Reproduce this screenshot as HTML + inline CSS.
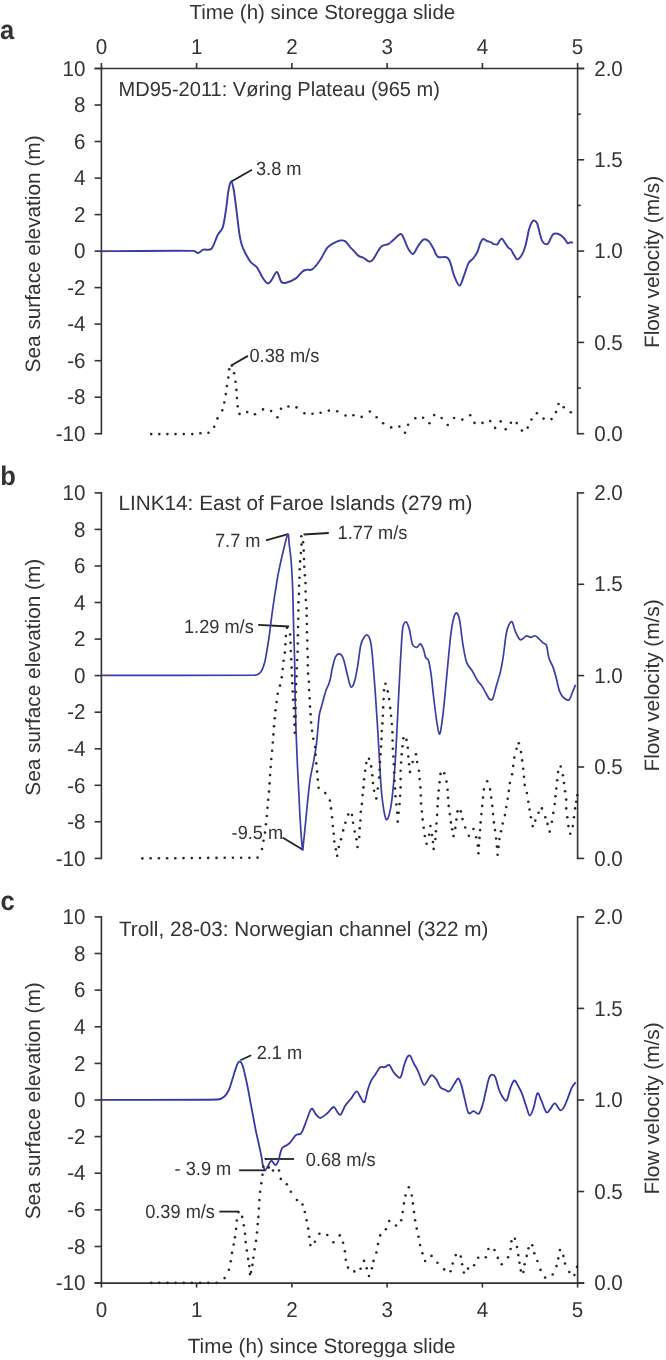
<!DOCTYPE html>
<html><head><meta charset="utf-8"><style>
html,body{margin:0;padding:0;background:#fff;}
svg{display:block;}
text{font-family:"Liberation Sans",sans-serif;text-rendering:geometricPrecision;}
</style></head><body>
<svg width="666" height="1360" viewBox="0 0 666 1360">
<rect width="666" height="1360" fill="#fff"/>
<line x1="101.4" y1="67.6" x2="101.4" y2="434.6" stroke="#333" stroke-width="1.6"/>
<line x1="577.6" y1="67.6" x2="577.6" y2="434.6" stroke="#333" stroke-width="1.6"/>
<line x1="94.6" y1="68.5" x2="101.4" y2="68.5" stroke="#333" stroke-width="1.6"/>
<line x1="94.6" y1="105.0" x2="101.4" y2="105.0" stroke="#333" stroke-width="1.6"/>
<line x1="94.6" y1="141.5" x2="101.4" y2="141.5" stroke="#333" stroke-width="1.6"/>
<line x1="94.6" y1="178.1" x2="101.4" y2="178.1" stroke="#333" stroke-width="1.6"/>
<line x1="94.6" y1="214.6" x2="101.4" y2="214.6" stroke="#333" stroke-width="1.6"/>
<line x1="94.6" y1="251.1" x2="101.4" y2="251.1" stroke="#333" stroke-width="1.6"/>
<line x1="94.6" y1="287.6" x2="101.4" y2="287.6" stroke="#333" stroke-width="1.6"/>
<line x1="94.6" y1="324.1" x2="101.4" y2="324.1" stroke="#333" stroke-width="1.6"/>
<line x1="94.6" y1="360.7" x2="101.4" y2="360.7" stroke="#333" stroke-width="1.6"/>
<line x1="94.6" y1="397.2" x2="101.4" y2="397.2" stroke="#333" stroke-width="1.6"/>
<line x1="94.6" y1="433.7" x2="101.4" y2="433.7" stroke="#333" stroke-width="1.6"/>
<line x1="577.6" y1="433.7" x2="584.2" y2="433.7" stroke="#333" stroke-width="1.6"/>
<line x1="577.6" y1="342.4" x2="584.2" y2="342.4" stroke="#333" stroke-width="1.6"/>
<line x1="577.6" y1="251.1" x2="584.2" y2="251.1" stroke="#333" stroke-width="1.6"/>
<line x1="577.6" y1="159.8" x2="584.2" y2="159.8" stroke="#333" stroke-width="1.6"/>
<line x1="577.6" y1="68.5" x2="584.2" y2="68.5" stroke="#333" stroke-width="1.6"/>
<line x1="577.6" y1="388.1" x2="580.8" y2="388.1" stroke="#333" stroke-width="1.6"/>
<line x1="577.6" y1="296.8" x2="580.8" y2="296.8" stroke="#333" stroke-width="1.6"/>
<line x1="577.6" y1="205.4" x2="580.8" y2="205.4" stroke="#333" stroke-width="1.6"/>
<line x1="577.6" y1="114.1" x2="580.8" y2="114.1" stroke="#333" stroke-width="1.6"/>
<line x1="101.4" y1="492.0" x2="101.4" y2="859.3" stroke="#333" stroke-width="1.6"/>
<line x1="577.6" y1="492.0" x2="577.6" y2="859.3" stroke="#333" stroke-width="1.6"/>
<line x1="94.6" y1="492.9" x2="101.4" y2="492.9" stroke="#333" stroke-width="1.6"/>
<line x1="94.6" y1="529.4" x2="101.4" y2="529.4" stroke="#333" stroke-width="1.6"/>
<line x1="94.6" y1="566.0" x2="101.4" y2="566.0" stroke="#333" stroke-width="1.6"/>
<line x1="94.6" y1="602.5" x2="101.4" y2="602.5" stroke="#333" stroke-width="1.6"/>
<line x1="94.6" y1="639.1" x2="101.4" y2="639.1" stroke="#333" stroke-width="1.6"/>
<line x1="94.6" y1="675.6" x2="101.4" y2="675.6" stroke="#333" stroke-width="1.6"/>
<line x1="94.6" y1="712.2" x2="101.4" y2="712.2" stroke="#333" stroke-width="1.6"/>
<line x1="94.6" y1="748.8" x2="101.4" y2="748.8" stroke="#333" stroke-width="1.6"/>
<line x1="94.6" y1="785.3" x2="101.4" y2="785.3" stroke="#333" stroke-width="1.6"/>
<line x1="94.6" y1="821.8" x2="101.4" y2="821.8" stroke="#333" stroke-width="1.6"/>
<line x1="94.6" y1="858.4" x2="101.4" y2="858.4" stroke="#333" stroke-width="1.6"/>
<line x1="577.6" y1="858.4" x2="584.2" y2="858.4" stroke="#333" stroke-width="1.6"/>
<line x1="577.6" y1="767.0" x2="584.2" y2="767.0" stroke="#333" stroke-width="1.6"/>
<line x1="577.6" y1="675.6" x2="584.2" y2="675.6" stroke="#333" stroke-width="1.6"/>
<line x1="577.6" y1="584.3" x2="584.2" y2="584.3" stroke="#333" stroke-width="1.6"/>
<line x1="577.6" y1="492.9" x2="584.2" y2="492.9" stroke="#333" stroke-width="1.6"/>
<line x1="101.4" y1="916.0" x2="101.4" y2="1284.0" stroke="#333" stroke-width="1.6"/>
<line x1="577.6" y1="916.0" x2="577.6" y2="1284.0" stroke="#333" stroke-width="1.6"/>
<line x1="94.6" y1="916.9" x2="101.4" y2="916.9" stroke="#333" stroke-width="1.6"/>
<line x1="94.6" y1="953.5" x2="101.4" y2="953.5" stroke="#333" stroke-width="1.6"/>
<line x1="94.6" y1="990.1" x2="101.4" y2="990.1" stroke="#333" stroke-width="1.6"/>
<line x1="94.6" y1="1026.8" x2="101.4" y2="1026.8" stroke="#333" stroke-width="1.6"/>
<line x1="94.6" y1="1063.4" x2="101.4" y2="1063.4" stroke="#333" stroke-width="1.6"/>
<line x1="94.6" y1="1100.0" x2="101.4" y2="1100.0" stroke="#333" stroke-width="1.6"/>
<line x1="94.6" y1="1136.6" x2="101.4" y2="1136.6" stroke="#333" stroke-width="1.6"/>
<line x1="94.6" y1="1173.2" x2="101.4" y2="1173.2" stroke="#333" stroke-width="1.6"/>
<line x1="94.6" y1="1209.9" x2="101.4" y2="1209.9" stroke="#333" stroke-width="1.6"/>
<line x1="94.6" y1="1246.5" x2="101.4" y2="1246.5" stroke="#333" stroke-width="1.6"/>
<line x1="94.6" y1="1283.1" x2="101.4" y2="1283.1" stroke="#333" stroke-width="1.6"/>
<line x1="577.6" y1="1283.1" x2="584.2" y2="1283.1" stroke="#333" stroke-width="1.6"/>
<line x1="577.6" y1="1191.5" x2="584.2" y2="1191.5" stroke="#333" stroke-width="1.6"/>
<line x1="577.6" y1="1100.0" x2="584.2" y2="1100.0" stroke="#333" stroke-width="1.6"/>
<line x1="577.6" y1="1008.4" x2="584.2" y2="1008.4" stroke="#333" stroke-width="1.6"/>
<line x1="577.6" y1="916.9" x2="584.2" y2="916.9" stroke="#333" stroke-width="1.6"/>
<line x1="94.6" y1="68.5" x2="584.2" y2="68.5" stroke="#333" stroke-width="1.6"/>
<line x1="101.4" y1="63.0" x2="101.4" y2="68.5" stroke="#333" stroke-width="1.6"/>
<line x1="196.6" y1="63.0" x2="196.6" y2="68.5" stroke="#333" stroke-width="1.6"/>
<line x1="291.9" y1="63.0" x2="291.9" y2="68.5" stroke="#333" stroke-width="1.6"/>
<line x1="387.1" y1="63.0" x2="387.1" y2="68.5" stroke="#333" stroke-width="1.6"/>
<line x1="482.4" y1="63.0" x2="482.4" y2="68.5" stroke="#333" stroke-width="1.6"/>
<line x1="577.6" y1="63.0" x2="577.6" y2="68.5" stroke="#333" stroke-width="1.6"/>
<line x1="94.6" y1="1283.1" x2="584.2" y2="1283.1" stroke="#333" stroke-width="1.6"/>
<line x1="101.4" y1="1283.1" x2="101.4" y2="1287.6" stroke="#333" stroke-width="1.6"/>
<line x1="196.6" y1="1283.1" x2="196.6" y2="1287.6" stroke="#333" stroke-width="1.6"/>
<line x1="291.9" y1="1283.1" x2="291.9" y2="1287.6" stroke="#333" stroke-width="1.6"/>
<line x1="387.1" y1="1283.1" x2="387.1" y2="1287.6" stroke="#333" stroke-width="1.6"/>
<line x1="482.4" y1="1283.1" x2="482.4" y2="1287.6" stroke="#333" stroke-width="1.6"/>
<line x1="577.6" y1="1283.1" x2="577.6" y2="1287.6" stroke="#333" stroke-width="1.6"/>
<line x1="231.4" y1="181.5" x2="252.0" y2="169.8" stroke="#222" stroke-width="1.8"/>
<line x1="231.7" y1="365.2" x2="247.9" y2="355.9" stroke="#222" stroke-width="1.8"/>
<line x1="265.9" y1="540.4" x2="288.1" y2="534.2" stroke="#222" stroke-width="1.8"/>
<line x1="303.6" y1="534.5" x2="328.8" y2="533.0" stroke="#222" stroke-width="1.8"/>
<line x1="258.2" y1="624.9" x2="289.1" y2="626.5" stroke="#222" stroke-width="1.8"/>
<line x1="282.5" y1="837.4" x2="302.5" y2="849.4" stroke="#222" stroke-width="1.8"/>
<line x1="240.4" y1="1060.2" x2="251.2" y2="1055.3" stroke="#222" stroke-width="1.8"/>
<line x1="239.1" y1="1170.3" x2="266.0" y2="1170.3" stroke="#222" stroke-width="1.8"/>
<line x1="265.8" y1="1159.0" x2="294.1" y2="1159.0" stroke="#222" stroke-width="1.8"/>
<line x1="219.3" y1="1211.6" x2="238.5" y2="1211.6" stroke="#222" stroke-width="1.8"/>
<path d="M101.4 251.2 C116.8 251.1 177.4 250.6 193.5 250.9 C195.7 250.9 196.3 253.2 198.0 253.0 C199.7 252.8 201.2 250.3 203.4 249.6 C205.7 248.9 209.1 251.2 211.5 248.7 C213.9 246.2 215.9 238.2 217.8 234.7 C219.6 231.2 221.5 231.2 222.7 227.5 C224.1 223.3 225.0 215.8 226.0 209.5 C227.0 203.2 227.7 194.3 228.6 189.6 C229.3 185.8 230.5 181.2 231.4 181.5 C232.3 181.8 233.2 186.9 234.0 191.4 C234.9 196.7 235.9 205.8 236.8 213.0 C237.7 220.2 238.7 229.4 239.5 234.7 C240.2 239.4 240.8 241.9 241.8 245.0 C242.8 248.1 243.9 250.3 245.4 253.2 C246.9 256.1 248.9 259.8 250.8 262.2 C252.8 264.6 255.2 265.1 257.1 267.6 C259.1 270.2 260.8 274.9 262.5 277.5 C264.2 280.1 266.1 282.9 267.6 283.4 C269.1 283.8 270.1 282.0 271.5 280.2 C273.1 278.3 275.2 271.7 276.9 272.0 C278.5 272.3 279.8 280.2 281.4 282.0 C283.0 283.8 284.4 283.1 286.8 282.5 C289.2 281.9 293.3 280.2 295.9 278.4 C298.5 276.6 300.4 273.1 302.2 271.7 C303.9 270.3 305.0 270.1 306.7 269.7 C308.4 269.3 310.1 270.8 312.1 269.4 C314.2 268.0 316.8 264.9 319.3 261.3 C321.9 257.7 325.0 250.7 327.4 247.7 C329.6 245.0 331.6 244.4 333.7 243.2 C335.8 242.0 338.1 240.8 340.0 240.5 C341.9 240.2 343.8 240.3 345.4 241.4 C347.0 242.5 348.5 245.3 349.9 246.8 C351.2 248.3 352.1 249.0 353.5 250.5 C354.9 252.0 357.0 254.7 358.6 255.9 C360.2 257.1 361.3 256.8 363.1 257.7 C364.9 258.6 367.8 261.3 369.4 261.6 C371.0 261.9 371.8 261.0 373.0 259.5 C374.5 257.6 376.9 252.8 378.4 250.5 C379.8 248.3 380.4 247.1 382.0 246.0 C383.6 244.9 386.5 245.0 388.3 244.1 C390.1 243.2 390.9 242.2 392.8 240.5 C394.8 238.8 398.4 234.9 400.0 234.2 C401.3 233.6 402.0 234.7 402.7 236.0 C404.1 238.4 406.5 245.6 408.2 248.6 C409.8 251.4 411.4 254.4 413.0 254.0 C414.6 253.6 416.4 248.4 418.1 246.0 C419.9 243.6 421.7 240.4 423.5 239.6 C425.3 238.8 427.2 239.9 428.9 241.4 C430.5 242.9 431.9 246.0 433.4 248.6 C434.9 251.2 435.6 255.4 437.9 256.8 C440.1 258.2 444.8 256.2 446.9 257.3 C449.0 258.4 449.4 260.2 450.5 263.1 C451.7 266.2 452.6 271.9 454.1 275.7 C455.6 279.4 457.9 285.6 459.5 285.6 C461.1 285.6 462.5 279.4 464.0 275.7 C465.5 271.9 467.0 266.0 468.5 263.1 C469.9 260.5 471.6 260.5 473.1 258.5 C474.6 256.5 476.4 253.9 477.6 251.3 C478.8 248.8 479.4 245.2 480.3 243.2 C481.2 241.1 481.9 239.4 483.0 239.0 C484.1 238.6 485.2 240.2 486.6 240.8 C488.0 241.4 489.9 241.8 491.1 242.3 C492.3 242.9 492.8 243.8 493.8 244.1 C494.9 244.4 496.5 244.8 497.4 244.4 C498.3 244.0 498.4 242.4 499.2 241.4 C499.9 240.4 501.0 238.4 501.9 238.6 C502.8 238.8 503.6 240.8 504.6 242.3 C505.7 243.8 507.1 246.5 508.2 247.7 C509.2 248.8 510.0 248.3 510.9 249.5 C511.9 250.8 513.4 254.2 514.5 255.8 C515.6 257.4 516.1 259.5 517.3 259.4 C518.5 259.2 520.4 257.1 521.8 254.9 C523.1 252.7 524.2 250.1 525.4 245.9 C526.6 241.7 528.0 233.5 529.0 229.6 C529.9 226.3 530.8 223.9 531.7 222.4 C532.5 221.1 533.5 220.4 534.4 220.6 C535.3 220.8 536.4 221.8 537.1 223.3 C537.9 224.8 538.1 226.9 538.9 229.6 C539.6 232.3 540.7 237.2 541.6 239.5 C542.4 241.5 543.2 242.8 544.3 243.5 C545.3 244.2 546.8 244.5 547.9 243.7 C549.0 242.9 549.7 240.2 550.6 238.6 C551.5 237.0 552.1 234.9 553.3 234.1 C554.5 233.3 556.1 233.3 557.8 233.8 C559.4 234.3 561.6 235.6 563.2 237.2 C564.9 238.8 566.5 242.3 567.7 243.2 C568.7 243.9 569.5 242.4 570.4 242.3 C571.3 242.2 572.6 242.7 573.1 242.8" fill="none" stroke="#3b3da4" stroke-width="1.95" stroke-linejoin="round"/>
<path d="M101.4 675.4 C127.1 675.4 228.9 675.6 255.5 675.1 C258.2 675.0 259.3 674.1 260.8 672.1 C262.3 670.1 263.5 666.6 264.5 663.1 C265.5 659.6 266.1 655.3 266.8 651.0 C267.6 646.7 268.2 642.8 269.0 637.5 C269.8 632.2 270.5 625.8 271.3 619.5 C272.1 613.2 273.2 605.4 274.0 600.0 C274.8 594.6 275.3 591.8 276.0 587.3 C276.7 582.8 277.2 578.9 278.4 572.9 C279.6 566.9 281.6 557.7 283.2 551.2 C284.8 544.8 286.8 535.4 287.8 534.2 C288.8 533.0 288.7 539.8 289.2 544.0 C289.7 548.2 290.5 553.6 291.0 559.6 C291.5 565.6 292.0 573.3 292.3 580.0 C292.6 586.7 292.8 592.2 293.0 600.0 C293.2 607.8 293.3 617.0 293.6 627.0 C293.9 637.0 294.4 649.6 294.6 660.1 C294.8 670.6 294.9 681.7 295.0 690.0 C295.1 698.3 295.3 703.3 295.5 710.0 C295.7 716.7 295.7 721.7 296.0 730.0 C296.3 738.3 296.8 750.0 297.2 760.0 C297.6 770.0 298.2 780.0 298.7 790.0 C299.2 800.0 299.6 810.1 300.2 820.0 C300.8 829.9 301.9 845.6 302.5 849.4 C302.9 852.5 303.2 845.7 303.5 842.6 C304.1 837.7 305.1 827.6 305.8 820.1 C306.6 812.6 307.2 804.6 308.0 797.6 C308.8 790.6 309.4 783.9 310.3 778.1 C311.2 772.4 312.3 768.6 313.3 763.1 C314.3 757.6 315.6 750.5 316.3 745.0 C317.1 739.5 317.3 735.0 317.8 730.0 C318.3 725.0 318.7 719.0 319.3 715.0 C319.9 711.0 320.9 708.8 321.6 706.0 C322.4 703.2 323.1 700.7 323.8 698.0 C324.6 695.3 325.3 692.3 326.1 690.0 C326.9 687.7 328.1 686.0 328.8 684.0 C329.5 682.0 329.9 680.5 330.5 678.0 C331.1 675.5 331.3 672.8 332.1 669.3 C332.9 665.8 334.2 659.8 335.4 657.2 C336.4 655.1 338.1 653.7 339.4 653.9 C340.7 654.1 342.3 655.8 343.2 658.3 C344.6 662.0 346.3 671.1 347.6 675.9 C348.9 680.7 349.8 685.9 350.9 687.0 C352.0 688.1 353.4 684.9 354.2 682.6 C355.3 679.3 356.4 673.4 357.5 667.1 C358.6 660.8 359.7 650.0 360.8 645.0 C361.6 641.3 363.0 638.9 364.1 637.3 C365.1 635.8 366.4 634.2 367.5 635.1 C368.6 636.0 370.1 639.1 370.8 642.8 C371.7 647.4 372.3 654.6 373.0 662.7 C373.7 670.8 374.5 681.1 375.2 691.4 C375.9 701.7 376.7 712.7 377.4 724.5 C378.1 736.3 378.9 750.2 379.6 762.0 C380.3 773.8 380.7 785.5 381.8 795.1 C382.9 804.7 384.7 817.2 386.2 819.4 C387.7 821.6 389.6 813.6 390.6 808.4 C391.9 801.8 393.0 790.0 393.9 779.7 C394.8 769.4 395.4 759.5 396.1 746.6 C396.8 733.7 397.6 717.1 398.3 702.4 C399.1 687.7 399.9 670.8 400.6 658.3 C401.4 645.8 401.9 633.5 402.8 627.4 C403.2 624.5 405.0 621.5 406.1 621.9 C407.2 622.3 408.4 626.0 409.4 629.6 C410.5 633.5 411.4 642.1 412.7 645.0 C413.6 647.0 415.8 647.4 417.1 647.2 C418.4 647.0 419.3 643.5 420.4 643.9 C421.5 644.3 422.6 647.2 423.5 649.4 C424.4 651.6 424.7 655.3 425.5 657.1 C426.3 658.9 427.9 658.5 428.5 660.4 C429.4 663.1 430.2 668.1 431.0 673.6 C431.8 679.1 432.3 685.8 433.2 693.5 C434.1 701.2 435.5 713.1 436.5 719.9 C437.5 726.4 438.5 733.8 439.4 734.2 C440.3 734.6 441.2 727.6 442.0 722.1 C442.9 716.0 443.8 707.1 444.7 697.9 C445.6 688.7 446.6 677.7 447.6 667.0 C448.6 656.3 449.8 642.4 450.9 633.9 C451.9 625.9 453.2 619.8 454.2 616.3 C454.7 614.5 455.9 612.3 456.8 613.0 C457.7 613.7 459.0 617.1 459.7 620.7 C460.7 626.0 461.8 638.0 463.0 645.0 C464.2 652.0 465.2 658.4 466.7 662.6 C468.1 666.5 470.0 667.4 471.8 670.3 C473.6 673.2 475.7 677.6 477.3 680.2 C478.9 682.8 480.2 683.5 481.7 685.7 C483.2 687.9 484.8 691.3 486.1 693.5 C487.4 695.7 488.3 698.1 489.4 699.0 C490.5 699.9 492.0 700.3 492.7 699.0 C493.8 697.0 494.8 691.4 496.1 686.8 C497.4 682.2 499.3 676.5 500.5 671.4 C501.7 666.3 502.4 662.3 503.3 656.1 C504.2 649.9 505.3 639.1 506.2 634.0 C506.9 629.9 507.8 627.2 508.8 625.2 C509.7 623.3 511.0 620.8 512.1 621.9 C513.2 623.0 514.2 628.9 515.5 631.8 C516.8 634.7 518.6 638.4 519.9 639.5 C521.1 640.5 522.1 639.0 523.2 638.4 C524.3 637.8 525.2 636.0 526.5 635.8 C527.8 635.6 529.4 637.3 530.9 637.3 C532.4 637.3 533.8 635.4 535.3 635.8 C536.8 636.2 538.4 638.3 539.7 639.5 C541.0 640.7 541.9 641.9 543.0 642.8 C544.1 643.7 545.7 643.4 546.4 645.1 C547.4 647.7 547.9 654.6 549.0 658.3 C550.1 662.0 551.8 663.8 553.0 667.1 C554.2 670.4 555.2 674.2 556.3 678.2 C557.4 682.2 558.3 688.1 559.6 691.4 C560.9 694.7 562.4 696.6 564.0 698.0 C565.6 699.4 567.6 700.9 569.1 699.8 C570.6 698.7 571.7 693.9 572.8 691.4 C573.9 688.9 575.0 685.9 575.5 684.8" fill="none" stroke="#3b3da4" stroke-width="1.7" stroke-linejoin="round"/>
<path d="M101.4 1099.8 C120.8 1099.8 197.4 1100.0 217.8 1099.5 C220.9 1099.4 222.3 1098.3 224.1 1096.8 C225.9 1095.3 227.2 1093.4 228.6 1090.5 C230.0 1087.6 231.2 1082.9 232.3 1079.6 C233.4 1076.3 234.1 1073.3 235.0 1070.6 C235.9 1067.9 236.9 1065.0 237.7 1063.4 C238.2 1062.3 238.8 1061.2 239.5 1061.3 C240.2 1061.4 241.5 1062.6 242.2 1064.3 C243.1 1066.5 244.0 1070.5 244.9 1074.2 C245.8 1078.0 246.7 1082.3 247.6 1086.8 C248.5 1091.3 249.4 1096.5 250.3 1101.3 C251.2 1106.1 252.1 1111.0 253.0 1115.7 C253.9 1120.4 254.8 1125.5 255.6 1129.6 C256.4 1133.7 257.3 1137.2 258.0 1140.4 C258.7 1143.6 259.2 1146.0 259.8 1148.8 C260.4 1151.6 261.1 1154.5 261.6 1157.2 C262.1 1159.9 262.2 1162.9 262.8 1165.0 C263.4 1167.1 264.4 1169.6 265.2 1169.9 C266.0 1170.2 266.8 1168.1 267.6 1166.8 C268.4 1165.5 269.3 1163.0 270.0 1162.0 C270.6 1161.2 271.2 1160.6 271.8 1160.8 C272.4 1161.0 272.9 1162.5 273.6 1163.2 C274.3 1163.9 275.2 1165.4 276.0 1165.0 C276.8 1164.6 277.7 1162.7 278.4 1160.8 C279.1 1158.9 279.6 1155.7 280.2 1153.6 C280.8 1151.5 281.3 1149.4 282.0 1148.2 C282.7 1147.0 283.6 1146.9 284.4 1146.4 C285.2 1145.9 285.8 1145.9 286.8 1145.2 C287.8 1144.5 289.1 1143.8 290.5 1142.2 C291.9 1140.6 294.1 1136.9 295.3 1135.6 C296.1 1134.7 296.8 1134.7 297.7 1134.4 C298.6 1134.1 299.9 1134.4 300.7 1133.8 C301.5 1133.2 301.8 1132.2 302.5 1130.8 C303.2 1129.3 304.2 1126.6 304.9 1124.8 C305.6 1123.0 305.8 1122.1 306.7 1120.0 C307.8 1117.3 309.9 1109.7 311.5 1108.8 C313.1 1107.9 314.5 1113.0 316.0 1114.5 C317.5 1116.0 318.6 1118.0 320.5 1117.8 C322.4 1117.6 325.1 1115.1 327.3 1113.3 C329.5 1111.5 331.9 1107.2 333.6 1107.0 C335.3 1106.8 336.2 1111.0 337.4 1112.2 C338.6 1113.5 339.5 1115.6 340.8 1114.5 C342.1 1113.4 343.6 1108.1 345.3 1105.5 C347.0 1102.9 349.0 1101.1 350.9 1098.7 C352.8 1096.3 355.1 1091.7 356.6 1091.3 C358.1 1090.9 358.7 1094.6 360.0 1096.4 C361.3 1098.2 363.2 1103.2 364.5 1102.1 C365.8 1101.0 366.7 1093.3 367.8 1089.7 C368.9 1086.1 369.9 1083.3 371.2 1080.7 C372.5 1078.1 374.2 1076.2 375.7 1073.9 C377.2 1071.7 378.7 1068.3 380.2 1067.2 C381.7 1066.1 383.2 1067.6 384.7 1067.2 C386.2 1066.8 387.9 1064.4 389.2 1064.9 C390.5 1065.5 391.5 1068.8 392.6 1070.5 C393.7 1072.2 394.7 1073.9 396.0 1075.0 C397.3 1076.1 399.2 1078.8 400.5 1077.3 C401.8 1075.8 402.8 1069.4 403.9 1066.0 C405.0 1062.6 406.2 1058.7 407.3 1057.0 C408.0 1055.8 409.2 1054.9 410.2 1055.9 C411.3 1057.0 412.7 1061.4 414.0 1063.8 C415.3 1066.2 416.7 1068.1 417.8 1070.5 C418.9 1072.9 419.8 1076.0 420.8 1078.4 C421.9 1080.8 423.0 1084.6 424.1 1085.0 C425.2 1085.4 426.4 1082.2 427.5 1080.7 C428.6 1079.2 429.6 1076.9 430.5 1076.0 C431.3 1075.2 431.9 1074.8 432.8 1075.4 C433.8 1076.0 435.3 1077.8 436.6 1079.8 C437.9 1081.8 438.9 1085.7 440.4 1087.4 C441.9 1089.1 444.0 1089.3 445.5 1090.0 C447.0 1090.7 447.9 1092.4 449.4 1091.3 C450.9 1090.2 453.0 1085.7 454.5 1083.6 C456.0 1081.5 457.2 1078.3 458.3 1078.5 C459.4 1078.7 460.3 1081.9 461.3 1084.9 C462.4 1088.3 463.5 1094.2 464.7 1098.9 C465.9 1103.6 467.0 1110.9 468.5 1112.9 C469.9 1114.9 471.9 1111.1 473.6 1111.2 C475.3 1111.3 477.2 1114.7 478.7 1113.7 C480.2 1112.7 481.3 1109.0 482.5 1105.3 C483.7 1101.6 484.7 1095.8 485.8 1091.3 C486.9 1086.8 487.9 1081.3 488.9 1078.5 C489.7 1076.4 490.9 1074.9 492.0 1074.7 C493.1 1074.5 494.5 1075.5 495.3 1077.2 C496.5 1079.8 497.8 1086.6 499.1 1090.0 C500.4 1093.4 501.7 1095.9 503.0 1097.6 C504.2 1099.3 505.6 1101.9 506.8 1100.2 C508.1 1098.5 509.3 1090.7 510.6 1087.4 C511.9 1084.1 513.1 1080.7 514.4 1080.5 C515.7 1080.3 517.0 1084.0 518.3 1086.2 C519.6 1088.4 520.8 1090.6 522.1 1093.8 C523.4 1097.0 524.6 1101.7 525.9 1105.3 C527.2 1108.9 528.4 1115.1 529.7 1115.5 C531.0 1115.9 532.3 1111.5 533.6 1107.8 C534.9 1104.1 536.1 1094.6 537.4 1093.3 C538.7 1092.0 539.7 1097.0 541.2 1100.2 C542.7 1103.4 544.8 1110.7 546.3 1112.2 C547.8 1113.7 548.8 1110.6 550.2 1109.1 C551.6 1107.6 553.1 1103.1 554.8 1103.3 C556.5 1103.5 558.8 1109.9 560.4 1110.4 C562.0 1111.0 563.0 1108.7 564.2 1106.6 C565.5 1104.5 566.7 1100.8 568.0 1097.6 C569.3 1094.4 570.6 1090.0 571.9 1087.4 C573.2 1084.9 575.1 1083.2 575.7 1082.3" fill="none" stroke="#3637a6" stroke-width="1.8" stroke-linejoin="round"/>
<g fill="#262626"><circle cx="151.2" cy="434.1" r="1.3"/><circle cx="159.3" cy="434.1" r="1.3"/><circle cx="167.4" cy="434.1" r="1.3"/><circle cx="175.5" cy="434.1" r="1.3"/><circle cx="183.8" cy="434.1" r="1.3"/><circle cx="192.3" cy="434.1" r="1.3"/><circle cx="200.4" cy="433.2" r="1.3"/><circle cx="208.5" cy="432.8" r="1.3"/><circle cx="214.2" cy="426.8" r="1.3"/><circle cx="217.5" cy="418.4" r="1.3"/><circle cx="222.3" cy="410.3" r="1.3"/><circle cx="224.3" cy="402.5" r="1.3"/><circle cx="225.8" cy="394.1" r="1.3"/><circle cx="226.8" cy="386.0" r="1.3"/><circle cx="228.3" cy="377.5" r="1.3"/><circle cx="229.2" cy="369.2" r="1.3"/><circle cx="231.9" cy="365.6" r="1.3"/><circle cx="234.1" cy="373.3" r="1.3"/><circle cx="235.5" cy="381.8" r="1.3"/><circle cx="236.4" cy="389.9" r="1.3"/><circle cx="236.9" cy="398.0" r="1.3"/><circle cx="237.7" cy="406.3" r="1.3"/><circle cx="239.5" cy="413.9" r="1.3"/><circle cx="247.2" cy="412.1" r="1.3"/><circle cx="255.0" cy="414.2" r="1.3"/><circle cx="263.0" cy="409.4" r="1.3"/><circle cx="271.1" cy="411.0" r="1.3"/><circle cx="277.4" cy="417.3" r="1.3"/><circle cx="281.0" cy="408.8" r="1.3"/><circle cx="288.4" cy="406.5" r="1.3"/><circle cx="296.5" cy="407.4" r="1.3"/><circle cx="304.4" cy="413.3" r="1.3"/><circle cx="312.5" cy="413.7" r="1.3"/><circle cx="320.6" cy="412.8" r="1.3"/><circle cx="328.9" cy="410.6" r="1.3"/><circle cx="337.2" cy="411.2" r="1.3"/><circle cx="345.5" cy="415.5" r="1.3"/><circle cx="353.4" cy="415.3" r="1.3"/><circle cx="361.7" cy="416.9" r="1.3"/><circle cx="369.9" cy="411.5" r="1.3"/><circle cx="376.6" cy="417.3" r="1.3"/><circle cx="383.1" cy="423.2" r="1.3"/><circle cx="391.2" cy="427.4" r="1.3"/><circle cx="399.3" cy="426.5" r="1.3"/><circle cx="405.0" cy="432.8" r="1.3"/><circle cx="408.1" cy="424.7" r="1.3"/><circle cx="415.3" cy="418.2" r="1.3"/><circle cx="423.1" cy="417.7" r="1.3"/><circle cx="429.4" cy="423.2" r="1.3"/><circle cx="434.2" cy="415.1" r="1.3"/><circle cx="441.6" cy="418.0" r="1.3"/><circle cx="447.7" cy="425.0" r="1.3"/><circle cx="454.1" cy="418.0" r="1.3"/><circle cx="462.3" cy="419.6" r="1.3"/><circle cx="470.2" cy="415.3" r="1.3"/><circle cx="474.5" cy="422.9" r="1.3"/><circle cx="482.5" cy="422.9" r="1.3"/><circle cx="490.2" cy="421.1" r="1.3"/><circle cx="495.1" cy="427.9" r="1.3"/><circle cx="500.7" cy="421.4" r="1.3"/><circle cx="505.7" cy="429.2" r="1.3"/><circle cx="510.9" cy="422.7" r="1.3"/><circle cx="516.7" cy="423.1" r="1.3"/><circle cx="521.9" cy="430.6" r="1.3"/><circle cx="527.7" cy="427.6" r="1.3"/><circle cx="531.5" cy="419.5" r="1.3"/><circle cx="536.9" cy="413.2" r="1.3"/><circle cx="543.6" cy="418.6" r="1.3"/><circle cx="551.5" cy="419.1" r="1.3"/><circle cx="556.0" cy="412.1" r="1.3"/><circle cx="558.5" cy="404.0" r="1.3"/><circle cx="563.7" cy="407.2" r="1.3"/><circle cx="570.8" cy="412.3" r="1.3"/></g>
<g fill="#262626"><circle cx="142.4" cy="858.4" r="1.3"/><circle cx="150.6" cy="858.3" r="1.3"/><circle cx="158.9" cy="858.3" r="1.3"/><circle cx="167.1" cy="858.2" r="1.3"/><circle cx="175.3" cy="858.2" r="1.3"/><circle cx="183.5" cy="858.1" r="1.3"/><circle cx="191.8" cy="858.1" r="1.3"/><circle cx="200.0" cy="858.0" r="1.3"/><circle cx="208.2" cy="857.9" r="1.3"/><circle cx="216.5" cy="857.9" r="1.3"/><circle cx="224.7" cy="857.8" r="1.3"/><circle cx="232.9" cy="857.8" r="1.3"/><circle cx="241.1" cy="857.7" r="1.3"/><circle cx="249.4" cy="857.7" r="1.3"/><circle cx="257.6" cy="857.6" r="1.3"/><circle cx="262.0" cy="849.0" r="1.3"/><circle cx="263.5" cy="840.8" r="1.3"/><circle cx="265.0" cy="832.6" r="1.3"/><circle cx="266.0" cy="824.3" r="1.3"/><circle cx="266.8" cy="816.0" r="1.3"/><circle cx="267.5" cy="807.8" r="1.3"/><circle cx="268.2" cy="799.7" r="1.3"/><circle cx="269.0" cy="791.6" r="1.3"/><circle cx="269.6" cy="783.4" r="1.3"/><circle cx="270.1" cy="775.1" r="1.3"/><circle cx="270.7" cy="767.0" r="1.3"/><circle cx="271.3" cy="759.0" r="1.3"/><circle cx="272.1" cy="750.8" r="1.3"/><circle cx="272.8" cy="742.5" r="1.3"/><circle cx="273.4" cy="734.4" r="1.3"/><circle cx="274.0" cy="726.3" r="1.3"/><circle cx="274.8" cy="718.2" r="1.3"/><circle cx="275.5" cy="710.2" r="1.3"/><circle cx="276.6" cy="702.0" r="1.3"/><circle cx="277.7" cy="693.8" r="1.3"/><circle cx="280.0" cy="685.6" r="1.3"/><circle cx="281.8" cy="677.3" r="1.3"/><circle cx="282.7" cy="669.0" r="1.3"/><circle cx="283.6" cy="660.8" r="1.3"/><circle cx="284.8" cy="652.6" r="1.3"/><circle cx="285.4" cy="644.3" r="1.3"/><circle cx="285.9" cy="636.0" r="1.3"/><circle cx="287.0" cy="627.8" r="1.3"/><circle cx="290.1" cy="634.5" r="1.3"/><circle cx="290.5" cy="642.8" r="1.3"/><circle cx="290.8" cy="651.0" r="1.3"/><circle cx="291.2" cy="659.3" r="1.3"/><circle cx="291.6" cy="667.6" r="1.3"/><circle cx="292.0" cy="675.5" r="1.3"/><circle cx="292.3" cy="683.3" r="1.3"/><circle cx="292.7" cy="691.5" r="1.3"/><circle cx="293.1" cy="699.8" r="1.3"/><circle cx="293.8" cy="708.3" r="1.3"/><circle cx="294.2" cy="716.5" r="1.3"/><circle cx="294.5" cy="724.8" r="1.3"/><circle cx="294.8" cy="732.7" r="1.3"/><circle cx="295.2" cy="724.5" r="1.3"/><circle cx="295.6" cy="716.4" r="1.3"/><circle cx="295.6" cy="708.1" r="1.3"/><circle cx="295.6" cy="699.8" r="1.3"/><circle cx="295.9" cy="692.0" r="1.3"/><circle cx="296.1" cy="684.1" r="1.3"/><circle cx="296.5" cy="676.2" r="1.3"/><circle cx="296.8" cy="668.3" r="1.3"/><circle cx="297.2" cy="660.0" r="1.3"/><circle cx="297.6" cy="651.8" r="1.3"/><circle cx="297.8" cy="643.5" r="1.3"/><circle cx="297.9" cy="635.3" r="1.3"/><circle cx="298.1" cy="627.0" r="1.3"/><circle cx="298.3" cy="618.8" r="1.3"/><circle cx="298.4" cy="610.5" r="1.3"/><circle cx="298.5" cy="602.3" r="1.3"/><circle cx="298.9" cy="593.9" r="1.3"/><circle cx="299.1" cy="585.8" r="1.3"/><circle cx="299.5" cy="577.7" r="1.3"/><circle cx="299.7" cy="569.2" r="1.3"/><circle cx="300.1" cy="561.4" r="1.3"/><circle cx="300.9" cy="553.0" r="1.3"/><circle cx="301.5" cy="544.6" r="1.3"/><circle cx="301.3" cy="536.2" r="1.3"/><circle cx="303.1" cy="542.2" r="1.3"/><circle cx="303.7" cy="550.6" r="1.3"/><circle cx="304.0" cy="559.0" r="1.3"/><circle cx="304.3" cy="566.8" r="1.3"/><circle cx="304.9" cy="575.3" r="1.3"/><circle cx="305.5" cy="583.1" r="1.3"/><circle cx="305.6" cy="591.5" r="1.3"/><circle cx="305.8" cy="600.0" r="1.3"/><circle cx="306.6" cy="608.3" r="1.3"/><circle cx="306.6" cy="615.8" r="1.3"/><circle cx="306.9" cy="624.0" r="1.3"/><circle cx="306.9" cy="632.3" r="1.3"/><circle cx="307.3" cy="640.5" r="1.3"/><circle cx="307.3" cy="648.8" r="1.3"/><circle cx="307.8" cy="657.1" r="1.3"/><circle cx="307.8" cy="665.3" r="1.3"/><circle cx="308.1" cy="673.6" r="1.3"/><circle cx="308.8" cy="681.8" r="1.3"/><circle cx="309.1" cy="690.1" r="1.3"/><circle cx="309.6" cy="698.3" r="1.3"/><circle cx="310.0" cy="706.6" r="1.3"/><circle cx="310.6" cy="714.3" r="1.3"/><circle cx="311.1" cy="722.5" r="1.3"/><circle cx="312.1" cy="730.8" r="1.3"/><circle cx="313.3" cy="738.7" r="1.3"/><circle cx="315.1" cy="747.0" r="1.3"/><circle cx="315.6" cy="754.8" r="1.3"/><circle cx="316.3" cy="763.4" r="1.3"/><circle cx="317.1" cy="771.6" r="1.3"/><circle cx="317.8" cy="779.6" r="1.3"/><circle cx="318.6" cy="787.8" r="1.3"/><circle cx="325.3" cy="793.1" r="1.3"/><circle cx="329.9" cy="800.6" r="1.3"/><circle cx="331.0" cy="808.4" r="1.3"/><circle cx="332.1" cy="817.2" r="1.3"/><circle cx="332.8" cy="826.0" r="1.3"/><circle cx="333.7" cy="833.7" r="1.3"/><circle cx="334.3" cy="841.5" r="1.3"/><circle cx="335.9" cy="849.2" r="1.3"/><circle cx="337.2" cy="855.8" r="1.3"/><circle cx="338.8" cy="847.0" r="1.3"/><circle cx="341.0" cy="839.3" r="1.3"/><circle cx="343.2" cy="830.4" r="1.3"/><circle cx="345.4" cy="822.7" r="1.3"/><circle cx="348.2" cy="814.5" r="1.3"/><circle cx="352.0" cy="815.0" r="1.3"/><circle cx="353.1" cy="822.7" r="1.3"/><circle cx="354.7" cy="831.5" r="1.3"/><circle cx="356.4" cy="839.3" r="1.3"/><circle cx="357.5" cy="847.0" r="1.3"/><circle cx="359.3" cy="837.0" r="1.3"/><circle cx="359.7" cy="828.2" r="1.3"/><circle cx="360.4" cy="820.5" r="1.3"/><circle cx="360.8" cy="811.7" r="1.3"/><circle cx="361.9" cy="803.9" r="1.3"/><circle cx="362.6" cy="795.1" r="1.3"/><circle cx="363.5" cy="787.4" r="1.3"/><circle cx="364.1" cy="779.2" r="1.3"/><circle cx="365.2" cy="770.8" r="1.3"/><circle cx="366.3" cy="763.1" r="1.3"/><circle cx="369.0" cy="758.7" r="1.3"/><circle cx="371.2" cy="766.4" r="1.3"/><circle cx="372.3" cy="775.2" r="1.3"/><circle cx="373.0" cy="783.0" r="1.3"/><circle cx="374.1" cy="790.7" r="1.3"/><circle cx="376.3" cy="798.4" r="1.3"/><circle cx="377.8" cy="788.5" r="1.3"/><circle cx="379.1" cy="777.5" r="1.3"/><circle cx="379.6" cy="769.8" r="1.3"/><circle cx="380.0" cy="762.0" r="1.3"/><circle cx="380.6" cy="754.3" r="1.3"/><circle cx="381.1" cy="746.6" r="1.3"/><circle cx="381.5" cy="738.9" r="1.3"/><circle cx="381.8" cy="731.1" r="1.3"/><circle cx="382.4" cy="723.4" r="1.3"/><circle cx="382.9" cy="715.7" r="1.3"/><circle cx="383.2" cy="707.4" r="1.3"/><circle cx="383.6" cy="699.1" r="1.3"/><circle cx="384.0" cy="690.3" r="1.3"/><circle cx="385.5" cy="683.7" r="1.3"/><circle cx="387.8" cy="691.4" r="1.3"/><circle cx="389.1" cy="699.1" r="1.3"/><circle cx="390.2" cy="707.9" r="1.3"/><circle cx="391.1" cy="715.7" r="1.3"/><circle cx="391.8" cy="724.0" r="1.3"/><circle cx="392.4" cy="732.2" r="1.3"/><circle cx="392.6" cy="740.5" r="1.3"/><circle cx="392.8" cy="748.8" r="1.3"/><circle cx="393.4" cy="756.5" r="1.3"/><circle cx="393.9" cy="764.2" r="1.3"/><circle cx="394.2" cy="772.5" r="1.3"/><circle cx="394.6" cy="780.8" r="1.3"/><circle cx="395.1" cy="788.5" r="1.3"/><circle cx="395.5" cy="796.2" r="1.3"/><circle cx="396.4" cy="804.5" r="1.3"/><circle cx="397.2" cy="812.8" r="1.3"/><circle cx="397.7" cy="821.6" r="1.3"/><circle cx="398.6" cy="812.8" r="1.3"/><circle cx="399.5" cy="804.0" r="1.3"/><circle cx="400.1" cy="795.7" r="1.3"/><circle cx="400.6" cy="787.4" r="1.3"/><circle cx="400.6" cy="779.1" r="1.3"/><circle cx="400.6" cy="770.8" r="1.3"/><circle cx="401.1" cy="762.5" r="1.3"/><circle cx="401.7" cy="754.3" r="1.3"/><circle cx="402.5" cy="746.2" r="1.3"/><circle cx="403.4" cy="738.2" r="1.3"/><circle cx="406.5" cy="739.9" r="1.3"/><circle cx="407.8" cy="747.7" r="1.3"/><circle cx="408.3" cy="756.5" r="1.3"/><circle cx="409.1" cy="764.2" r="1.3"/><circle cx="410.0" cy="771.9" r="1.3"/><circle cx="412.7" cy="762.0" r="1.3"/><circle cx="416.0" cy="754.3" r="1.3"/><circle cx="417.1" cy="762.0" r="1.3"/><circle cx="418.9" cy="770.8" r="1.3"/><circle cx="419.6" cy="779.1" r="1.3"/><circle cx="420.4" cy="787.4" r="1.3"/><circle cx="420.8" cy="795.5" r="1.3"/><circle cx="421.1" cy="803.5" r="1.3"/><circle cx="421.9" cy="811.5" r="1.3"/><circle cx="422.6" cy="819.4" r="1.3"/><circle cx="423.7" cy="827.7" r="1.3"/><circle cx="424.8" cy="836.0" r="1.3"/><circle cx="426.6" cy="843.7" r="1.3"/><circle cx="429.2" cy="834.8" r="1.3"/><circle cx="430.4" cy="826.0" r="1.3"/><circle cx="432.0" cy="835.0" r="1.3"/><circle cx="432.9" cy="842.0" r="1.3"/><circle cx="433.7" cy="848.9" r="1.3"/><circle cx="435.4" cy="839.0" r="1.3"/><circle cx="435.9" cy="831.2" r="1.3"/><circle cx="436.5" cy="823.5" r="1.3"/><circle cx="437.1" cy="814.9" r="1.3"/><circle cx="437.6" cy="806.3" r="1.3"/><circle cx="438.1" cy="798.4" r="1.3"/><circle cx="438.7" cy="790.5" r="1.3"/><circle cx="439.6" cy="782.2" r="1.3"/><circle cx="440.5" cy="773.9" r="1.3"/><circle cx="444.3" cy="773.3" r="1.3"/><circle cx="446.5" cy="781.6" r="1.3"/><circle cx="447.6" cy="789.8" r="1.3"/><circle cx="448.1" cy="797.8" r="1.3"/><circle cx="448.7" cy="805.9" r="1.3"/><circle cx="449.8" cy="814.1" r="1.3"/><circle cx="450.9" cy="822.4" r="1.3"/><circle cx="452.2" cy="829.2" r="1.3"/><circle cx="453.5" cy="836.1" r="1.3"/><circle cx="455.3" cy="827.9" r="1.3"/><circle cx="456.4" cy="819.6" r="1.3"/><circle cx="457.5" cy="811.4" r="1.3"/><circle cx="460.8" cy="811.4" r="1.3"/><circle cx="462.5" cy="819.1" r="1.3"/><circle cx="465.2" cy="827.5" r="1.3"/><circle cx="468.9" cy="835.7" r="1.3"/><circle cx="473.4" cy="829.0" r="1.3"/><circle cx="476.2" cy="837.2" r="1.3"/><circle cx="477.8" cy="845.6" r="1.3"/><circle cx="478.4" cy="853.3" r="1.3"/><circle cx="478.9" cy="845.6" r="1.3"/><circle cx="479.5" cy="837.9" r="1.3"/><circle cx="480.1" cy="830.1" r="1.3"/><circle cx="480.6" cy="822.4" r="1.3"/><circle cx="481.4" cy="814.1" r="1.3"/><circle cx="482.2" cy="805.9" r="1.3"/><circle cx="483.0" cy="797.6" r="1.3"/><circle cx="483.9" cy="789.4" r="1.3"/><circle cx="487.2" cy="781.2" r="1.3"/><circle cx="490.1" cy="789.4" r="1.3"/><circle cx="491.2" cy="797.6" r="1.3"/><circle cx="492.3" cy="805.9" r="1.3"/><circle cx="493.1" cy="814.1" r="1.3"/><circle cx="493.9" cy="822.4" r="1.3"/><circle cx="495.0" cy="830.1" r="1.3"/><circle cx="496.1" cy="838.5" r="1.3"/><circle cx="496.9" cy="846.6" r="1.3"/><circle cx="497.6" cy="854.8" r="1.3"/><circle cx="498.5" cy="846.9" r="1.3"/><circle cx="499.4" cy="839.0" r="1.3"/><circle cx="501.0" cy="831.2" r="1.3"/><circle cx="502.7" cy="823.5" r="1.3"/><circle cx="504.9" cy="815.1" r="1.3"/><circle cx="506.3" cy="807.0" r="1.3"/><circle cx="507.7" cy="798.8" r="1.3"/><circle cx="508.8" cy="790.9" r="1.3"/><circle cx="509.9" cy="783.0" r="1.3"/><circle cx="512.1" cy="774.2" r="1.3"/><circle cx="513.2" cy="765.9" r="1.3"/><circle cx="514.3" cy="757.6" r="1.3"/><circle cx="516.6" cy="748.8" r="1.3"/><circle cx="518.8" cy="743.3" r="1.3"/><circle cx="521.0" cy="752.1" r="1.3"/><circle cx="522.1" cy="760.4" r="1.3"/><circle cx="523.2" cy="768.7" r="1.3"/><circle cx="524.0" cy="776.8" r="1.3"/><circle cx="524.7" cy="784.9" r="1.3"/><circle cx="526.9" cy="793.0" r="1.3"/><circle cx="528.3" cy="801.8" r="1.3"/><circle cx="529.6" cy="809.5" r="1.3"/><circle cx="530.9" cy="817.2" r="1.3"/><circle cx="532.7" cy="826.1" r="1.3"/><circle cx="535.3" cy="820.6" r="1.3"/><circle cx="538.6" cy="812.8" r="1.3"/><circle cx="541.9" cy="808.4" r="1.3"/><circle cx="545.3" cy="817.2" r="1.3"/><circle cx="547.5" cy="823.9" r="1.3"/><circle cx="549.7" cy="831.6" r="1.3"/><circle cx="551.9" cy="821.7" r="1.3"/><circle cx="553.3" cy="812.9" r="1.3"/><circle cx="554.7" cy="804.0" r="1.3"/><circle cx="555.5" cy="796.2" r="1.3"/><circle cx="556.3" cy="788.5" r="1.3"/><circle cx="557.2" cy="780.2" r="1.3"/><circle cx="558.1" cy="772.0" r="1.3"/><circle cx="560.7" cy="766.5" r="1.3"/><circle cx="562.9" cy="775.3" r="1.3"/><circle cx="564.0" cy="783.0" r="1.3"/><circle cx="565.1" cy="791.3" r="1.3"/><circle cx="566.2" cy="799.6" r="1.3"/><circle cx="566.2" cy="808.4" r="1.3"/><circle cx="567.3" cy="817.2" r="1.3"/><circle cx="568.4" cy="826.1" r="1.3"/><circle cx="570.2" cy="833.8" r="1.3"/><circle cx="572.8" cy="826.1" r="1.3"/><circle cx="574.0" cy="817.2" r="1.3"/><circle cx="575.1" cy="808.4" r="1.3"/><circle cx="576.2" cy="801.8" r="1.3"/><circle cx="577.3" cy="795.2" r="1.3"/></g>
<g fill="#262626"><circle cx="151.3" cy="1282.9" r="1.3"/><circle cx="159.2" cy="1282.9" r="1.3"/><circle cx="167.5" cy="1282.9" r="1.3"/><circle cx="175.6" cy="1282.9" r="1.3"/><circle cx="183.8" cy="1282.9" r="1.3"/><circle cx="191.8" cy="1282.9" r="1.3"/><circle cx="200.1" cy="1282.9" r="1.3"/><circle cx="208.3" cy="1282.9" r="1.3"/><circle cx="216.6" cy="1282.9" r="1.3"/><circle cx="224.6" cy="1278.1" r="1.3"/><circle cx="228.9" cy="1269.7" r="1.3"/><circle cx="230.8" cy="1261.3" r="1.3"/><circle cx="232.0" cy="1252.9" r="1.3"/><circle cx="233.7" cy="1244.5" r="1.3"/><circle cx="234.9" cy="1237.3" r="1.3"/><circle cx="236.1" cy="1228.9" r="1.3"/><circle cx="236.8" cy="1220.5" r="1.3"/><circle cx="238.5" cy="1212.1" r="1.3"/><circle cx="242.1" cy="1216.9" r="1.3"/><circle cx="243.8" cy="1225.3" r="1.3"/><circle cx="245.0" cy="1233.7" r="1.3"/><circle cx="245.7" cy="1242.1" r="1.3"/><circle cx="246.9" cy="1250.5" r="1.3"/><circle cx="248.1" cy="1258.9" r="1.3"/><circle cx="249.3" cy="1266.1" r="1.3"/><circle cx="250.0" cy="1274.1" r="1.3"/><circle cx="251.0" cy="1272.1" r="1.3"/><circle cx="252.4" cy="1264.9" r="1.3"/><circle cx="253.4" cy="1257.7" r="1.3"/><circle cx="254.6" cy="1249.3" r="1.3"/><circle cx="256.0" cy="1240.9" r="1.3"/><circle cx="257.0" cy="1232.5" r="1.3"/><circle cx="257.7" cy="1224.1" r="1.3"/><circle cx="258.4" cy="1216.9" r="1.3"/><circle cx="258.9" cy="1208.5" r="1.3"/><circle cx="259.4" cy="1200.1" r="1.3"/><circle cx="260.1" cy="1191.7" r="1.3"/><circle cx="261.3" cy="1183.3" r="1.3"/><circle cx="262.5" cy="1174.8" r="1.3"/><circle cx="263.4" cy="1166.8" r="1.3"/><circle cx="265.8" cy="1159.0" r="1.3"/><circle cx="268.8" cy="1167.4" r="1.3"/><circle cx="273.0" cy="1170.5" r="1.3"/><circle cx="279.0" cy="1170.5" r="1.3"/><circle cx="280.8" cy="1178.9" r="1.3"/><circle cx="286.8" cy="1184.3" r="1.3"/><circle cx="290.8" cy="1191.7" r="1.3"/><circle cx="296.9" cy="1200.0" r="1.3"/><circle cx="302.5" cy="1204.5" r="1.3"/><circle cx="304.8" cy="1212.0" r="1.3"/><circle cx="306.6" cy="1220.3" r="1.3"/><circle cx="308.2" cy="1228.6" r="1.3"/><circle cx="309.3" cy="1236.8" r="1.3"/><circle cx="310.4" cy="1245.1" r="1.3"/><circle cx="314.9" cy="1241.7" r="1.3"/><circle cx="319.4" cy="1233.8" r="1.3"/><circle cx="327.3" cy="1235.0" r="1.3"/><circle cx="333.4" cy="1242.2" r="1.3"/><circle cx="339.7" cy="1235.4" r="1.3"/><circle cx="343.1" cy="1242.8" r="1.3"/><circle cx="344.9" cy="1251.2" r="1.3"/><circle cx="345.8" cy="1259.7" r="1.3"/><circle cx="348.0" cy="1267.6" r="1.3"/><circle cx="354.3" cy="1271.4" r="1.3"/><circle cx="360.6" cy="1268.7" r="1.3"/><circle cx="364.0" cy="1260.9" r="1.3"/><circle cx="366.7" cy="1268.3" r="1.3"/><circle cx="369.0" cy="1276.0" r="1.3"/><circle cx="371.9" cy="1268.3" r="1.3"/><circle cx="373.5" cy="1260.9" r="1.3"/><circle cx="376.4" cy="1252.5" r="1.3"/><circle cx="378.0" cy="1244.0" r="1.3"/><circle cx="380.2" cy="1235.4" r="1.3"/><circle cx="385.9" cy="1229.3" r="1.3"/><circle cx="389.2" cy="1221.0" r="1.3"/><circle cx="396.0" cy="1225.5" r="1.3"/><circle cx="401.2" cy="1220.3" r="1.3"/><circle cx="402.7" cy="1212.0" r="1.3"/><circle cx="403.9" cy="1203.4" r="1.3"/><circle cx="405.5" cy="1195.5" r="1.3"/><circle cx="408.8" cy="1187.2" r="1.3"/><circle cx="411.8" cy="1195.5" r="1.3"/><circle cx="412.9" cy="1203.4" r="1.3"/><circle cx="414.0" cy="1212.0" r="1.3"/><circle cx="415.1" cy="1220.3" r="1.3"/><circle cx="416.7" cy="1228.6" r="1.3"/><circle cx="418.5" cy="1236.8" r="1.3"/><circle cx="420.1" cy="1245.1" r="1.3"/><circle cx="422.4" cy="1253.2" r="1.3"/><circle cx="425.1" cy="1261.0" r="1.3"/><circle cx="431.5" cy="1255.9" r="1.3"/><circle cx="437.4" cy="1262.8" r="1.3"/><circle cx="444.2" cy="1269.4" r="1.3"/><circle cx="450.6" cy="1271.2" r="1.3"/><circle cx="452.7" cy="1263.5" r="1.3"/><circle cx="455.7" cy="1255.1" r="1.3"/><circle cx="460.8" cy="1256.6" r="1.3"/><circle cx="462.1" cy="1264.3" r="1.3"/><circle cx="463.9" cy="1272.5" r="1.3"/><circle cx="468.0" cy="1268.6" r="1.3"/><circle cx="474.1" cy="1265.3" r="1.3"/><circle cx="478.2" cy="1257.7" r="1.3"/><circle cx="485.8" cy="1257.2" r="1.3"/><circle cx="488.4" cy="1249.0" r="1.3"/><circle cx="494.5" cy="1250.0" r="1.3"/><circle cx="497.8" cy="1257.9" r="1.3"/><circle cx="501.7" cy="1264.3" r="1.3"/><circle cx="508.1" cy="1257.2" r="1.3"/><circle cx="510.6" cy="1249.0" r="1.3"/><circle cx="511.4" cy="1241.3" r="1.3"/><circle cx="514.9" cy="1238.8" r="1.3"/><circle cx="517.0" cy="1247.0" r="1.3"/><circle cx="518.3" cy="1255.1" r="1.3"/><circle cx="519.5" cy="1262.8" r="1.3"/><circle cx="520.8" cy="1270.4" r="1.3"/><circle cx="523.4" cy="1272.0" r="1.3"/><circle cx="524.6" cy="1264.3" r="1.3"/><circle cx="526.7" cy="1255.9" r="1.3"/><circle cx="528.5" cy="1248.2" r="1.3"/><circle cx="532.3" cy="1245.2" r="1.3"/><circle cx="534.3" cy="1253.3" r="1.3"/><circle cx="537.4" cy="1261.0" r="1.3"/><circle cx="540.5" cy="1269.9" r="1.3"/><circle cx="545.1" cy="1277.6" r="1.3"/><circle cx="552.7" cy="1274.5" r="1.3"/><circle cx="556.5" cy="1266.1" r="1.3"/><circle cx="558.3" cy="1258.4" r="1.3"/><circle cx="559.9" cy="1250.0" r="1.3"/><circle cx="563.4" cy="1255.9" r="1.3"/><circle cx="565.0" cy="1263.5" r="1.3"/><circle cx="569.3" cy="1272.0" r="1.3"/><circle cx="574.4" cy="1275.0" r="1.3"/><circle cx="577.0" cy="1266.9" r="1.3"/></g>
<g style="filter:grayscale(1)"><text transform="translate(85.50,75.70) scale(1,1.05)" font-size="20.6" text-anchor="end" fill="#333" >10</text>
<text transform="translate(85.50,112.22) scale(1,1.05)" font-size="20.6" text-anchor="end" fill="#333" >8</text>
<text transform="translate(85.50,148.74) scale(1,1.05)" font-size="20.6" text-anchor="end" fill="#333" >6</text>
<text transform="translate(85.50,185.26) scale(1,1.05)" font-size="20.6" text-anchor="end" fill="#333" >4</text>
<text transform="translate(85.50,221.78) scale(1,1.05)" font-size="20.6" text-anchor="end" fill="#333" >2</text>
<text transform="translate(85.50,258.30) scale(1,1.05)" font-size="20.6" text-anchor="end" fill="#333" >0</text>
<text transform="translate(85.50,294.82) scale(1,1.05)" font-size="20.6" text-anchor="end" fill="#333" >-2</text>
<text transform="translate(85.50,331.34) scale(1,1.05)" font-size="20.6" text-anchor="end" fill="#333" >-4</text>
<text transform="translate(85.50,367.86) scale(1,1.05)" font-size="20.6" text-anchor="end" fill="#333" >-6</text>
<text transform="translate(85.50,404.38) scale(1,1.05)" font-size="20.6" text-anchor="end" fill="#333" >-8</text>
<text transform="translate(85.50,440.90) scale(1,1.05)" font-size="20.6" text-anchor="end" fill="#333" >-10</text>
<text transform="translate(594.20,440.90) scale(1,1.05)" font-size="20.6" text-anchor="start" fill="#333" >0.0</text>
<text transform="translate(594.20,349.60) scale(1,1.05)" font-size="20.6" text-anchor="start" fill="#333" >0.5</text>
<text transform="translate(594.20,258.30) scale(1,1.05)" font-size="20.6" text-anchor="start" fill="#333" >1.0</text>
<text transform="translate(594.20,167.00) scale(1,1.05)" font-size="20.6" text-anchor="start" fill="#333" >1.5</text>
<text transform="translate(594.20,75.70) scale(1,1.05)" font-size="20.6" text-anchor="start" fill="#333" >2.0</text>
<text transform="translate(85.50,500.10) scale(1,1.05)" font-size="20.6" text-anchor="end" fill="#333" >10</text>
<text transform="translate(85.50,536.65) scale(1,1.05)" font-size="20.6" text-anchor="end" fill="#333" >8</text>
<text transform="translate(85.50,573.20) scale(1,1.05)" font-size="20.6" text-anchor="end" fill="#333" >6</text>
<text transform="translate(85.50,609.75) scale(1,1.05)" font-size="20.6" text-anchor="end" fill="#333" >4</text>
<text transform="translate(85.50,646.30) scale(1,1.05)" font-size="20.6" text-anchor="end" fill="#333" >2</text>
<text transform="translate(85.50,682.85) scale(1,1.05)" font-size="20.6" text-anchor="end" fill="#333" >0</text>
<text transform="translate(85.50,719.40) scale(1,1.05)" font-size="20.6" text-anchor="end" fill="#333" >-2</text>
<text transform="translate(85.50,755.95) scale(1,1.05)" font-size="20.6" text-anchor="end" fill="#333" >-4</text>
<text transform="translate(85.50,792.50) scale(1,1.05)" font-size="20.6" text-anchor="end" fill="#333" >-6</text>
<text transform="translate(85.50,829.05) scale(1,1.05)" font-size="20.6" text-anchor="end" fill="#333" >-8</text>
<text transform="translate(85.50,865.60) scale(1,1.05)" font-size="20.6" text-anchor="end" fill="#333" >-10</text>
<text transform="translate(594.20,865.60) scale(1,1.05)" font-size="20.6" text-anchor="start" fill="#333" >0.0</text>
<text transform="translate(594.20,774.22) scale(1,1.05)" font-size="20.6" text-anchor="start" fill="#333" >0.5</text>
<text transform="translate(594.20,682.85) scale(1,1.05)" font-size="20.6" text-anchor="start" fill="#333" >1.0</text>
<text transform="translate(594.20,591.47) scale(1,1.05)" font-size="20.6" text-anchor="start" fill="#333" >1.5</text>
<text transform="translate(594.20,500.10) scale(1,1.05)" font-size="20.6" text-anchor="start" fill="#333" >2.0</text>
<text transform="translate(85.50,924.10) scale(1,1.05)" font-size="20.6" text-anchor="end" fill="#333" >10</text>
<text transform="translate(85.50,960.72) scale(1,1.05)" font-size="20.6" text-anchor="end" fill="#333" >8</text>
<text transform="translate(85.50,997.34) scale(1,1.05)" font-size="20.6" text-anchor="end" fill="#333" >6</text>
<text transform="translate(85.50,1033.96) scale(1,1.05)" font-size="20.6" text-anchor="end" fill="#333" >4</text>
<text transform="translate(85.50,1070.58) scale(1,1.05)" font-size="20.6" text-anchor="end" fill="#333" >2</text>
<text transform="translate(85.50,1107.20) scale(1,1.05)" font-size="20.6" text-anchor="end" fill="#333" >0</text>
<text transform="translate(85.50,1143.82) scale(1,1.05)" font-size="20.6" text-anchor="end" fill="#333" >-2</text>
<text transform="translate(85.50,1180.44) scale(1,1.05)" font-size="20.6" text-anchor="end" fill="#333" >-4</text>
<text transform="translate(85.50,1217.06) scale(1,1.05)" font-size="20.6" text-anchor="end" fill="#333" >-6</text>
<text transform="translate(85.50,1253.68) scale(1,1.05)" font-size="20.6" text-anchor="end" fill="#333" >-8</text>
<text transform="translate(85.50,1290.30) scale(1,1.05)" font-size="20.6" text-anchor="end" fill="#333" >-10</text>
<text transform="translate(594.20,1290.30) scale(1,1.05)" font-size="20.6" text-anchor="start" fill="#333" >0.0</text>
<text transform="translate(594.20,1198.75) scale(1,1.05)" font-size="20.6" text-anchor="start" fill="#333" >0.5</text>
<text transform="translate(594.20,1107.20) scale(1,1.05)" font-size="20.6" text-anchor="start" fill="#333" >1.0</text>
<text transform="translate(594.20,1015.65) scale(1,1.05)" font-size="20.6" text-anchor="start" fill="#333" >1.5</text>
<text transform="translate(594.20,924.10) scale(1,1.05)" font-size="20.6" text-anchor="start" fill="#333" >2.0</text>
<text transform="translate(101.40,54.10) scale(1,1.05)" font-size="20.6" text-anchor="middle" fill="#333" >0</text>
<text transform="translate(196.64,54.10) scale(1,1.05)" font-size="20.6" text-anchor="middle" fill="#333" >1</text>
<text transform="translate(291.88,54.10) scale(1,1.05)" font-size="20.6" text-anchor="middle" fill="#333" >2</text>
<text transform="translate(387.12,54.10) scale(1,1.05)" font-size="20.6" text-anchor="middle" fill="#333" >3</text>
<text transform="translate(482.36,54.10) scale(1,1.05)" font-size="20.6" text-anchor="middle" fill="#333" >4</text>
<text transform="translate(577.60,54.10) scale(1,1.05)" font-size="20.6" text-anchor="middle" fill="#333" >5</text>
<text transform="translate(322.30,18.50) scale(1,1.0)" font-size="20.5" text-anchor="middle" fill="#333" >Time (h) since Storegga slide</text>
<text transform="translate(101.40,1317.10) scale(1,1.05)" font-size="20.6" text-anchor="middle" fill="#333" >0</text>
<text transform="translate(196.64,1317.10) scale(1,1.05)" font-size="20.6" text-anchor="middle" fill="#333" >1</text>
<text transform="translate(291.88,1317.10) scale(1,1.05)" font-size="20.6" text-anchor="middle" fill="#333" >2</text>
<text transform="translate(387.12,1317.10) scale(1,1.05)" font-size="20.6" text-anchor="middle" fill="#333" >3</text>
<text transform="translate(482.36,1317.10) scale(1,1.05)" font-size="20.6" text-anchor="middle" fill="#333" >4</text>
<text transform="translate(577.60,1317.10) scale(1,1.05)" font-size="20.6" text-anchor="middle" fill="#333" >5</text>
<text transform="translate(321.60,1353.30) scale(1,1.0)" font-size="20.65" text-anchor="middle" fill="#333" >Time (h) since Storegga slide</text>
<text transform="translate(0.00,38.80) scale(1,1.05)" font-size="25.5" text-anchor="start" font-weight="bold" fill="#333" >a</text>
<text transform="translate(0.30,484.90) scale(1,1.05)" font-size="25.5" text-anchor="start" font-weight="bold" fill="#333" >b</text>
<text transform="translate(0.60,910.10) scale(1,1.05)" font-size="25.5" text-anchor="start" font-weight="bold" fill="#333" >c</text>
<text transform="translate(118.50,95.80) scale(1,1.02)" font-size="20.05" text-anchor="start" fill="#333" >MD95-2011: Vøring Plateau (965 m)</text>
<text transform="translate(118.40,510.00) scale(1,1.0)" font-size="20.75" text-anchor="start" fill="#333" >LINK14: East of Faroe Islands (279 m)</text>
<text transform="translate(119.00,936.10) scale(1,1.0)" font-size="20.7" text-anchor="start" fill="#333" >Troll, 28-03: Norwegian channel (322 m)</text>
<text transform="translate(39.6,253.9) rotate(-90)" x="0" y="0" font-size="20.8" text-anchor="middle" fill="#333" font-family="Liberation Sans, sans-serif">Sea surface elevation (m)</text>
<text transform="translate(658.5,262.0) rotate(-90)" x="0" y="0" font-size="20.8" text-anchor="middle" fill="#333" font-family="Liberation Sans, sans-serif">Flow velocity (m/s)</text>
<text transform="translate(39.6,677.2) rotate(-90)" x="0" y="0" font-size="20.8" text-anchor="middle" fill="#333" font-family="Liberation Sans, sans-serif">Sea surface elevation (m)</text>
<text transform="translate(658.5,685.4) rotate(-90)" x="0" y="0" font-size="20.8" text-anchor="middle" fill="#333" font-family="Liberation Sans, sans-serif">Flow velocity (m/s)</text>
<text transform="translate(39.6,1100.8) rotate(-90)" x="0" y="0" font-size="20.8" text-anchor="middle" fill="#333" font-family="Liberation Sans, sans-serif">Sea surface elevation (m)</text>
<text transform="translate(658.5,1108.4) rotate(-90)" x="0" y="0" font-size="20.8" text-anchor="middle" fill="#333" font-family="Liberation Sans, sans-serif">Flow velocity (m/s)</text>
<text transform="translate(256.00,174.70) scale(1,1.05)" font-size="18.2" text-anchor="start" fill="#333" >3.8 m</text>
<text transform="translate(249.50,362.00) scale(1,1.05)" font-size="18.2" text-anchor="start" fill="#333" >0.38 m/s</text>
<text transform="translate(215.00,546.80) scale(1,1.05)" font-size="18.2" text-anchor="start" fill="#333" >7.7 m</text>
<text transform="translate(337.60,539.40) scale(1,1.05)" font-size="18.2" text-anchor="start" fill="#333" >1.77 m/s</text>
<text transform="translate(184.00,632.70) scale(1,1.05)" font-size="18.2" text-anchor="start" fill="#333" >1.29 m/s</text>
<text transform="translate(231.60,838.50) scale(1,1.05)" font-size="18.2" text-anchor="start" fill="#333" >-9.5 m</text>
<text transform="translate(256.70,1059.30) scale(1,1.05)" font-size="18.2" text-anchor="start" fill="#333" >2.1 m</text>
<text transform="translate(174.60,1175.40) scale(1,1.05)" font-size="18.2" text-anchor="start" fill="#333" >- 3.9 m</text>
<text transform="translate(305.80,1166.00) scale(1,1.05)" font-size="18.2" text-anchor="start" fill="#333" >0.68 m/s</text>
<text transform="translate(145.20,1218.00) scale(1,1.05)" font-size="18.2" text-anchor="start" fill="#333" >0.39 m/s</text></g>
</svg>
</body></html>
